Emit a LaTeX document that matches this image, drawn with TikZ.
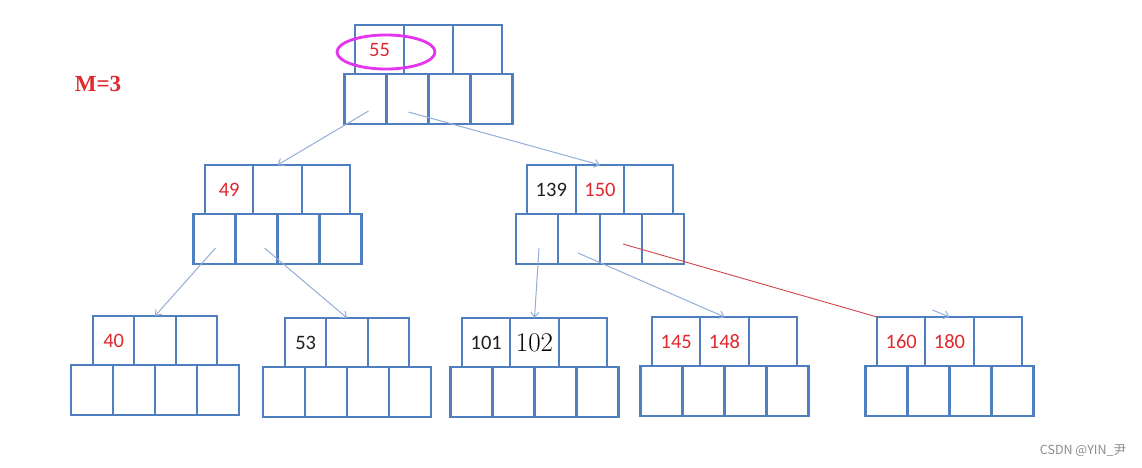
\documentclass[tikz,border=0pt]{standalone}
\usepackage{fontspec}
\usepackage{xcolor}
\usepackage{tikz}
\usetikzlibrary{arrows.meta,calc,shapes.geometric}
\newfontfamily\numfont{Carlito}
\newfontfamily\serfont{Liberation Serif}
\newfontfamily\cjk{Noto Sans CJK SC}

\definecolor{cellblue}{HTML}{4F7FC0}
\definecolor{keyred}{HTML}{E0282E}
\definecolor{linkblue}{HTML}{93AED8}
\definecolor{linkred}{HTML}{D0454A}
\definecolor{ringmag}{HTML}{E633EE}

\tikzset{
    keycell/.style={draw=cellblue,line width=2.2pt,minimum height=49,inner sep=0pt,outer sep=0pt,
        font=\numfont\fontsize{20.5}{22}\selectfont},
    ptrcell/.style={draw=cellblue,line width=2.2pt,minimum width=42,minimum height=50,inner sep=0pt,outer sep=0pt},
    link/.style={draw=linkblue,line width=1pt,-{Straight Barb[length=5pt,width=8pt]}},
}

\newcommand{\rk}[1]{\textcolor{keyred}{#1}}
\newcommand{\bk}[1]{\textcolor{black!88}{#1}}

% #1 name, #2 centre x of the key row, #3 top y, #4 key cell width, #5 #6 keys
\newcommand{\btnode}[6]{%
    \node[keycell,minimum width=#4] (#1-k1) at (#2-#4,#3+24.5) {#5};
    \node[keycell,minimum width=#4] (#1-k2) at (#2,#3+24.5) {#6};
    \node[keycell,minimum width=#4] (#1-k3) at (#2+#4,#3+24.5) {};
    \node[ptrcell] (#1-p1) at (#2-63,#3+74) {};
    \node[ptrcell] (#1-p2) at (#2-21,#3+74) {};
    \node[ptrcell] (#1-p3) at (#2+21,#3+74) {};
    \node[ptrcell] (#1-p4) at (#2+63,#3+74) {};
}

\begin{document}
\begin{tikzpicture}[x=1pt,y=-1pt]
    \useasboundingbox[fill=white] (0,0) rectangle (1142,467);

    \node[text=keyred,font=\serfont\bfseries\fontsize{23}{25}\selectfont] (order) at (98,84) {M=3};

    \btnode{root}{428.5}{25}{49}{\rk{55}}{}
    \btnode{ml}{277.5}{165}{48.3}{\rk{49}}{}
    \btnode{mr}{600}{165}{48.7}{\bk{139}}{\rk{150}}

    \btnode{la}{155}{316}{41.3}{\rk{40}}{}
    \btnode{lb}{347}{318}{41.3}{\bk{53}}{}
    \btnode{lc}{534.5}{318}{48.3}{\bk{101}}{{\rmfamily\fontsize{27}{29}\selectfont 102}}
    \btnode{ld}{724.5}{317}{48.3}{\rk{145}}{\rk{148}}
    \btnode{le}{949.5}{317}{48.3}{\rk{160}}{\rk{180}}

    \node[ellipse,draw=ringmag,line width=2.8pt,minimum width=98,minimum height=34,inner sep=0pt] (ring) at (386,52) {};

    \draw[link] ($(root-p1.center)+(3,12)$) -- (ml-k2.north);
    \draw[link] ($(root-p2.center)+(1,13)$) -- (mr-k2.north);
    \draw[link] ($(ml-p1.center)+(1,9)$) -- (la-k2.north);
    \draw[link] ($(ml-p2.center)+(8,9)$) -- (lb-k2.north);
    \draw[link] ($(mr-p1.center)+(2,9)$) -- (lc-k2.north);
    \draw[link] ($(mr-p2.center)+(-1,14)$) -- (ld-k2.north);
    \draw[linkred,line width=0.9pt] ($(mr-p3.center)+(2,5)$) -- (le-k1.north west);
    \coordinate (stub) at ($(le-k2.north)+(-17,-7)$);
    \draw[link] (stub) -- (le-k2.north);

    \node[text=black!45,font=\cjk\fontsize{12.5}{14}\selectfont] (mark) at (1083,451) {CSDN @YIN\_尹};
\end{tikzpicture}
\end{document}
